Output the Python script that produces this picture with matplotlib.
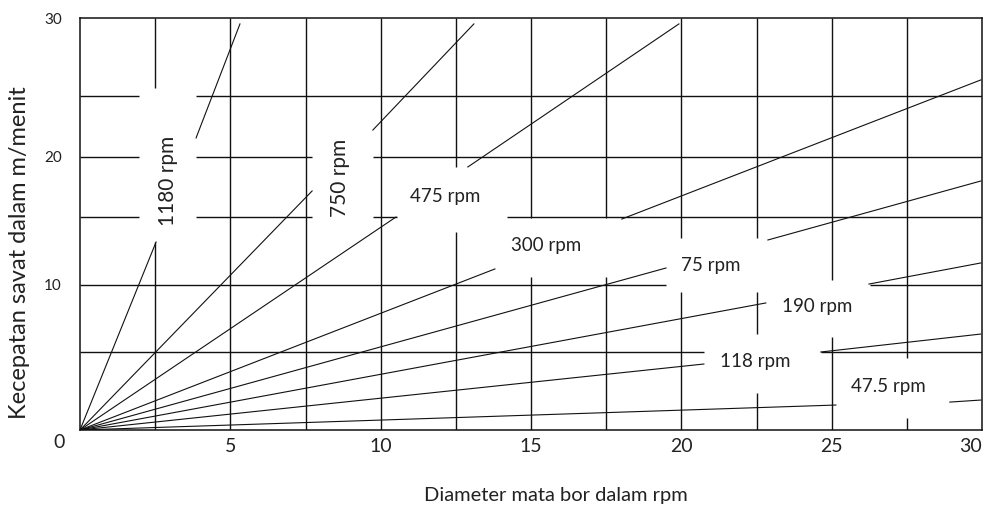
import numpy as np
import matplotlib.pyplot as plt

# Data: diameter (mm) dan kecepatan (m/menit)
rpm_labels = ['1180 rpm', '750 rpm', '475 rpm', '300 rpm',
              '75 rpm', '190 rpm', '118 rpm', '47.5 rpm']
# ujung potongan bawah (dari titik 0,0)
low_end_d = [2.53, 7.72, 10.51, 13.80, 19.49, 22.81, 20.75, 25.14]
low_end_v = [13.16, 17.17, 15.00, 11.18, 11.25, 8.66, 4.23, 1.60]
# potongan atas (setelah celah label)
up_start_d = [3.86, 9.74, 12.90, 18.02, 22.88, 26.24, 24.64, 28.93]
up_start_v = [21.56, 22.21, 19.17, 14.85, 13.31, 10.07, 5.00, 1.79]
up_end_d = [5.32, 13.10, 19.92, 29.96, 29.96, 29.96, 29.96, 29.96]
up_end_v = [29.62, 29.62, 29.62, 26.03, 18.00, 11.62, 6.34, 1.92]

# posisi label (diameter, kecepatan)
label_d = [2.93, 8.65, 12.14, 15.50, 20.98, 24.51, 22.45, 26.87]
label_v = [18.0, 18.25, 16.67, 12.87, 11.40, 8.36, 4.36, 2.76]
label_rot = [90, 90, 0, 0, 0, 0, 0, 0]

x_ticks = [5, 10, 15, 20, 25, 30]
y_ticks = [10, 20, 30]

# celah pada garis grid (tempat label)
vgrid_gaps = {2.5: [(13.16, 25.5)], 5: [], 7.5: [], 10: [],
              12.5: [(13.9, 19.17)], 15: [(10.59, 14.93)], 17.5: [(10.59, 14.93)],
              20: [(9.48, 13.46)], 22.5: [(2.37, 6.34), (9.48, 13.46)],
              25: [(6.12, 10.37)], 27.5: [(0.77, 4.62)]}
hgrid_gaps = {25: [(1.96, 3.86)],
              20: [(1.96, 3.86), (7.72, 9.74)],
              15: [(1.96, 3.86), (7.72, 9.74), (10.54, 14.20)],
              10: [(19.49, 26.27)],
              5: [(20.75, 24.64)]}

# skala sumbu Y di gambar asli tidak rata
y_knots = [-30, 0, 5, 10, 15, 20, 25, 30, 60]
y_pix = [-412, 0, 78, 145, 213, 273, 334, 412, 824]


def fwd(v):
    return np.interp(v, y_knots, y_pix)


def inv(h):
    return np.interp(h, y_pix, y_knots)


def pieces(gaps, lo=0, hi=30):
    out = []
    start = lo
    for a, b in gaps:
        out.append((start, a))
        start = b
    out.append((start, hi))
    return out


plt.rcParams['font.family'] = ['Lato', 'DejaVu Sans']

fig = plt.figure(figsize=(9.89, 5.08), dpi=100)
ax = fig.add_axes([80 / 989, 78 / 508, 902 / 989, 412 / 508])
ax.set_yscale('function', functions=(fwd, inv))
ax.set_xlim(0, 30)
ax.set_ylim(0, 30)

grid_kw = dict(color='#111111', lw=1.0, solid_capstyle='butt')
for x, gaps in vgrid_gaps.items():
    for a, b in pieces(gaps):
        ax.plot([x, x], [a, b], **grid_kw)
for y, gaps in hgrid_gaps.items():
    for a, b in pieces(gaps):
        ax.plot([a, b], [y, y], **grid_kw)

for i in range(len(rpm_labels)):
    ax.plot([0, low_end_d[i]], [0, low_end_v[i]], color='#111111', lw=0.8)
    ax.plot([up_start_d[i], up_end_d[i]], [up_start_v[i], up_end_v[i]],
            color='#111111', lw=0.8)
    fs = 15 if label_rot[i] == 90 else 13.5
    ax.text(label_d[i], label_v[i], rpm_labels[i], rotation=label_rot[i],
            ha='center', va='center', fontsize=fs, color='#222222')

for s in ax.spines.values():
    s.set_linewidth(1.1)
    s.set_color('#111111')

ax.set_xticks(x_ticks)
ax.set_xticklabels([str(t) for t in x_ticks], fontsize=14, color='#222222')
ax.get_xticklabels()[-1].set_horizontalalignment('right')
ax.set_yticks(y_ticks)
ax.set_yticklabels([str(t) for t in y_ticks], fontsize=11, color='#222222')
ax.tick_params(axis='x', length=0, pad=6)
ax.tick_params(axis='y', length=0, pad=13)
ax.annotate('0', xy=(0, 0), xytext=(-15, -9), textcoords='offset points',
            ha='center', va='center', fontsize=14, color='#222222',
            annotation_clip=False)

fig.text(556 / 989, 1 - 495 / 508, 'Diameter mata bor dalam rpm',
         ha='center', va='center', fontsize=14.5, color='#222222')
fig.text(20 / 989, 1 - 253 / 508, 'Kecepatan savat dalam m/menit',
         rotation=90, ha='center', va='center', fontsize=17, color='#222222')

fig.savefig('out.png', dpi=100)
